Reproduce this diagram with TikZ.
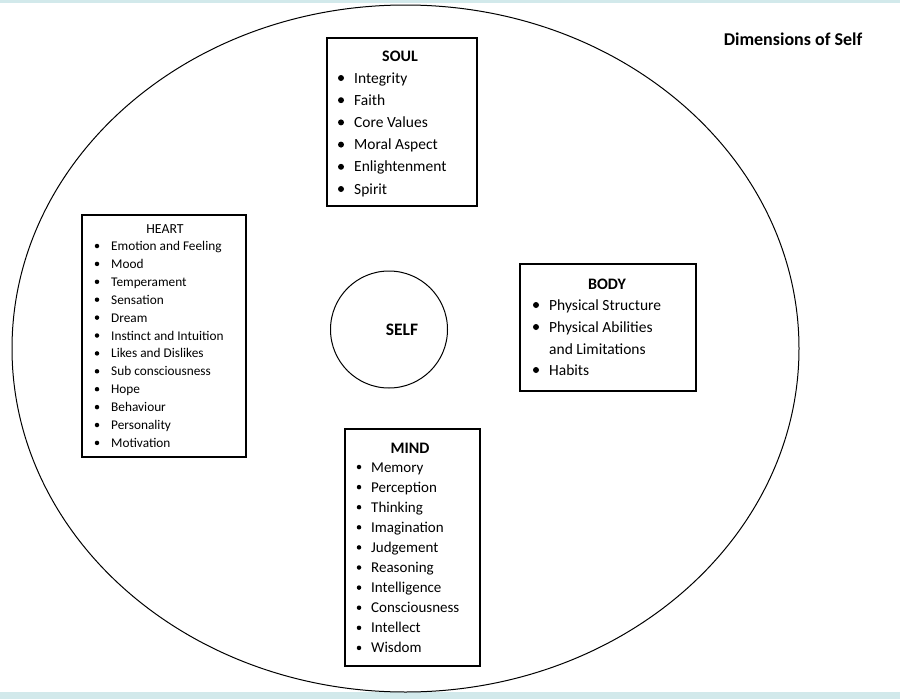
\documentclass[tikz,border=0pt]{standalone}
\usepackage{fontspec}
\setmainfont{Carlito}
\definecolor{band}{HTML}{D2E9EB}
\begin{document}
\begin{tikzpicture}[x=1pt,y=-1pt,
  box/.style={draw, line width=1.3pt, fill=white, inner sep=0},
  item/.style={anchor=base west, inner sep=0, font=\fontsize{15.5}{18}\selectfont},
  hitem/.style={anchor=base west, inner sep=0, font=\fontsize{13.3}{15}\selectfont},
  ttl/.style={anchor=base, inner sep=0, font=\bfseries\fontsize{16}{19}\selectfont},
  dot/.style={circle, fill=black, inner sep=0, minimum size=6pt},
  hdot/.style={circle, fill=black, inner sep=0, minimum size=4.5pt}]
\useasboundingbox (0,0) rectangle (900,699);
\fill[band] (0,0) rectangle (900,3);
\fill[band] (0,692) rectangle (900,699);
% outer ellipse
\draw[line width=1pt] (405.5,348.5) ellipse [x radius=393.5, y radius=343.5];
\coordinate (outer) at (405.5,348.5);
% title
\node[anchor=base, inner sep=0, font=\bfseries\fontsize{18}{21}\selectfont] (dim) at (793,45) {Dimensions of Self};
% self
\node[draw, circle, line width=1pt, minimum size=117pt, inner sep=0] (self) at (389,329.5) {};
\node[anchor=base, inner sep=0, font=\bfseries\fontsize{17.5}{20}\selectfont] (selft) at (402,335.5) {SELF};
% SOUL
\node[box, minimum width=150pt, minimum height=168pt] (soul) at (402,122) {};
\node[ttl] (soult) at (400,61.5) {SOUL};
\foreach \t [count=\i from 0] in {Integrity,Faith,Core Values,Moral Aspect,Enlightenment,Spirit}{
  \node[dot] (sd\i) at (341,78+22.2*\i) {};
  \node[item] (si\i) at (354,83+22.2*\i) {\t};
}
% HEART
\node[box, minimum width=164pt, minimum height=242pt] (heart) at (164,336) {};
\node[anchor=base, inner sep=0, font=\fontsize{13.8}{16}\selectfont] (heartt) at (165,233.5) {HEART};
\foreach \t [count=\i from 0] in {Emotion and Feeling,Mood,Temperament,Sensation,Dream,Instinct and Intuition,Likes and Dislikes,Sub consciousness,Hope,Behaviour,Personality,Motivation}{
  \node[hdot] (hd\i) at (97,246+17.9*\i) {};
  \node[hitem] (hi\i) at (111,250.5+17.9*\i) {\t};
}
% BODY
\node[box, minimum width=176pt, minimum height=127pt] (body) at (608,327.5) {};
\node[ttl] (bodyt) at (607,289.5) {BODY};
\node[dot] (bd0) at (536,305) {};
\node[item] (bi0) at (549,310) {Physical Structure};
\node[dot] (bd1) at (536,327) {};
\node[item] (bi1) at (549,332) {Physical Abilities};
\node[item] (bi2) at (549,354) {and Limitations};
\node[dot] (bd3) at (536,370) {};
\node[item] (bi3) at (549,375) {Habits};
% MIND
\node[box, minimum width=135pt, minimum height=237pt] (mind) at (412.5,547.5) {};
\node[ttl] (mindt) at (410,453.5) {MIND};
\foreach \t [count=\i from 0] in {Memory,Perception,Thinking,Imagination,Judgement,Reasoning,Intelligence,Consciousness,Intellect,Wisdom}{
  \node[hdot] (md\i) at (359,467+20.1*\i) {};
  \node[anchor=base west, inner sep=0, font=\fontsize{15}{18}\selectfont] (mi\i) at (371,472+20.1*\i) {\t};
}
\end{tikzpicture}
\end{document}
